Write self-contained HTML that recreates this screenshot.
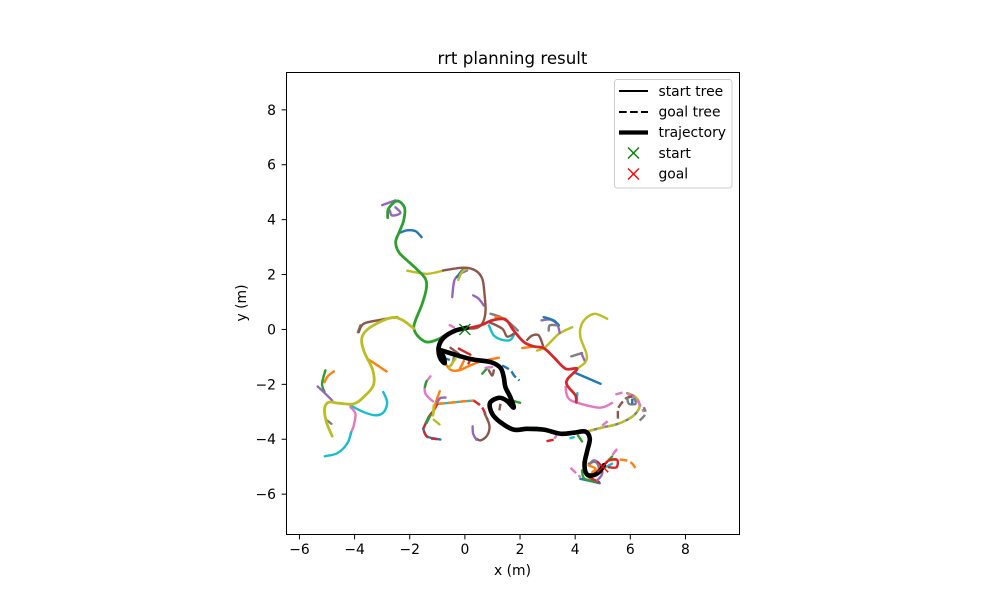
<!DOCTYPE html>
<html>
<head>
<meta charset="utf-8">
<title>rrt planning result</title>
<style>
html,body{margin:0;padding:0;background:#fff}
svg{display:block}
text{font-family:"DejaVu Sans","Liberation Sans",sans-serif;fill:#000}
</style>
</head>
<body>
<svg id="chart" xmlns="http://www.w3.org/2000/svg" width="1000" height="600" viewBox="0 0 1000 600">
<rect x="0" y="0" width="1000" height="600" fill="#fff"/>
<g id="marks"></g>
<rect x="286.5" y="72.5" width="453" height="462" fill="none" stroke="#000" stroke-width="1"/>
<g id="ticks"></g>
<text x="512.5" y="64" font-size="16.67" text-anchor="middle">rrt planning result</text>
<text x="512.5" y="575" font-size="13.89" text-anchor="middle">x (m)</text>
<text transform="translate(246,303) rotate(-90)" font-size="13.89" text-anchor="middle">y (m)</text>
<g>
<rect x="614.5" y="79.5" width="117.5" height="108.5" rx="2.8" fill="#fff" fill-opacity="0.8" stroke="#ccc" stroke-width="1"/>
<line x1="619" y1="91" x2="648" y2="91" stroke="#000" stroke-width="2.08"/>
<text x="658.5" y="96" font-size="13.89">start tree</text>
<line x1="619" y1="112" x2="648" y2="112" stroke="#000" stroke-width="2.08" stroke-dasharray="7.7 3.3"/>
<text x="658.5" y="116.500" font-size="13.89">goal tree</text>
<line x1="619" y1="132.500" x2="648" y2="132.500" stroke="#000" stroke-width="4.17"/>
<text x="658.5" y="137" font-size="13.89">trajectory</text>
<path d="M628 147.500l11 11M639 147.500l-11 11" stroke="#008000" stroke-width="1.4" fill="none"/>
<text x="658.5" y="158" font-size="13.89">start</text>
<path d="M628 168.500l11 11M639 168.500l-11 11" stroke="#ff0000" stroke-width="1.4" fill="none"/>
<text x="658.5" y="178.500" font-size="13.89">goal</text>
</g>
</svg>
<script>
const xTickLabels = [-6,-4,-2,0,2,4,6,8];
const yTickLabels = [-6,-4,-2,0,2,4,6,8];
const startPoint = [0,0];
const goalPoint = [5,-5];

const greenMain = [[-2.80,4.07],[-2.77,4.40],[-2.46,4.68],[-2.19,4.44],[-2.22,3.97],[-2.38,3.55],[-2.51,3.19],[-2.40,2.82],[-2.09,2.51],[-1.73,2.18],[-1.43,1.84],[-1.40,1.48],[-1.55,0.93],[-1.79,0.33],[-1.85,0.03],[-1.67,-0.28],[-1.37,-0.46],[-1.00,-0.37],[-0.64,-0.16]];
const brownTop = [[-0.79,2.15],[-0.04,2.25],[0.38,2.15],[0.63,1.85],[0.71,1.30],[0.75,0.69],[0.66,0.27],[0.45,0.06],[0.14,0.03]];
const oliveTop = [[-2.09,2.14],[-1.73,2.07],[-1.31,2.03],[-0.79,2.14]];
const blueTop = [[-2.37,3.52],[-2.09,3.61],[-1.79,3.58],[-1.57,3.36]];
const purpleTipA = [[-3.0,4.53],[-2.52,4.70]];
const purpleTipB = [[-2.72,4.33],[-2.64,4.15],[-2.34,4.24],[-2.52,4.45]];
const purpleInner = [[-0.46,1.18],[-0.38,1.79],[-0.16,2.03],[0.08,2.15]];
const blueInner = [[-0.28,1.91],[-0.10,2.15],[0.08,2.21]];
const oliveInner = [[-0.24,1.80],[-0.10,2.10],[0.10,2.22]];
const purpleRightInner = [[0.30,1.24],[0.50,1.12],[0.69,0.87]];
const pinkStart = [[-0.55,0.16],[-0.40,0.08]];

const brownLeftTop = [[-3.85,-0.10],[-3.67,0.21],[-3.06,0.35],[-2.46,0.45]];
const grayLeftTop = [[-3.88,-0.10],[-3.79,0.15]];
const oliveLeft = [[-1.85,0.03],[-2.28,0.35],[-2.70,0.42],[-3.43,0.08],[-3.73,-0.28],[-3.67,-0.77],[-3.34,-1.49],[-3.32,-2.04],[-3.67,-2.46],[-4.03,-2.71],[-4.58,-2.69],[-4.94,-2.65],[-5.09,-2.89],[-5.02,-3.38],[-4.81,-3.89]];
const orangeLeft = [[-3.49,-1.10],[-2.84,-1.53]];
const cyanLeftHook = [[-4.15,-2.77],[-3.67,-3.01],[-3.24,-3.13],[-2.94,-3.01],[-2.82,-2.65],[-2.96,-2.28]];
const pinkLeft = [[-4.15,-2.83],[-3.97,-3.07],[-4.03,-3.50],[-4.15,-3.80]];
const cyanLeftBottom = [[-4.12,-3.74],[-4.27,-4.16],[-4.63,-4.51],[-5.08,-4.62]];
const purpleLeft = [[-5.34,-2.08],[-5.06,-2.34],[-4.81,-2.59]];
const greenLeft = [[-5.06,-1.49],[-5.18,-1.98],[-5.09,-2.28]];
const orangeLeftTip = [[-4.75,-1.53],[-4.97,-1.70],[-5.09,-1.92]];
const grayLeftTip = [[-4.99,-3.32],[-4.84,-3.44]];

const blueRight = [[3.95,-1.56],[4.92,-1.98]];
const pinkRight = [[3.65,-2.10],[3.73,-2.47],[4.01,-2.65],[4.89,-2.85],[5.34,-2.68]];
const cyanRightTip = [[4.08,-2.32],[4.05,-2.56]];
const oliveRightLoop = [[4.07,-1.43],[4.37,-1.19],[4.41,-0.89],[4.19,-0.28],[4.22,0.15],[4.44,0.45],[4.74,0.57],[5.16,0.39]];
const grayRightStub = [[3.86,-0.98],[4.25,-0.86]];
const purpleRightStub = [[4.22,-0.86],[4.34,-1.13]];
const redMain = [[0.08,0.04],[0.57,0.15],[0.99,0.33],[1.47,0.36],[1.77,-0.04],[2.14,-0.46],[2.50,-0.62],[2.86,-0.68],[3.22,-1.01],[3.65,-1.43],[4.07,-1.43],[3.73,-1.80],[3.71,-2.04],[4.01,-2.40],[4.04,-2.65]];
const oliveBranch = [[2.62,-0.77],[2.92,-0.64],[3.41,-0.16],[3.89,0.08]];
const brownArc = [[2.26,-0.38],[2.44,-0.22],[2.68,-0.22],[2.83,-0.58]];
const orangeArcBase = [[2.08,-0.68],[2.49,-0.62]];
const purpleUpperRight = [[2.78,0.33],[3.10,0.36],[3.35,0.18],[3.44,-0.13]];
const blueUpperRight = [[2.86,0.45],[3.22,0.33],[3.41,0.15]];
const grayUpperRight = [[3.35,0.15],[3.08,0.15],[3.04,-0.04]];
const cyanNear = [[0.87,0.15],[1.05,-0.22],[1.35,-0.38],[1.65,-0.38],[1.80,-0.16]];
const grayNear = [[0.93,0.57],[1.29,0.45],[1.65,0.21],[1.92,-0.04]];
const brownNear = [[0.87,0.27],[1.35,0.03],[1.53,-0.26],[1.77,-0.16]];
const orangeNear = [[1.11,0.45],[1.47,0.39]];

const orangeCluster = [[-0.70,-1.25],[-0.52,-1.47],[-0.22,-1.49],[0.20,-1.31],[0.63,-1.15],[1.23,-1.03]];
const orangeClusterStub = [[-0.18,-1.43],[-0.04,-1.15]];
const redClusterA = [[-0.22,-0.70],[0.20,-0.92]];
const redClusterB = [[0.18,-1.13],[0.13,-1.24]];
const brownCluster = [[-0.52,-0.67],[-0.22,-0.89]];
const grayCluster = [[-0.40,-1.01],[-0.46,-1.25],[-0.58,-1.37]];
const oliveCluster = [[-0.34,-1.07],[-0.52,-1.31],[-0.59,-1.42]];
const blueCluster = [[-0.67,-1.07],[-0.58,-1.10]];
const greenCluster = [[0.63,-1.61],[0.81,-1.41]];
const pinkCluster = [[0.75,-1.40],[0.99,-1.37]];
const brownClusterV = [[0.87,-1.49],[0.99,-1.68],[1.05,-1.49]];
const blueDashed = [[1.35,-1.31],[1.65,-1.49],[1.80,-1.70],[1.98,-1.86]];
const pinkEnd = [[1.59,-2.73],[1.72,-2.83]];
const greenEnd = [[1.77,-2.61],[2.04,-2.68]];
const brownEnd = [[1.29,-2.71],[1.25,-2.95]];

const cyanBridge = [[-1.00,-2.71],[-0.64,-2.68],[-0.04,-2.62],[0.32,-2.59]];
const orangeBridge = [[-1.00,-2.71],[-0.64,-2.68],[-0.04,-2.62],[0.32,-2.59]];
const redBridgeRight = [[0.32,-2.59],[0.63,-2.85],[0.83,-3.32]];
const redBridgeLeft = [[-1.51,-3.62],[-1.31,-3.19],[-1.13,-2.95],[-1.00,-2.71]];
const blueBottomArc = [[-1.51,-3.62],[-1.37,-3.90],[-0.89,-4.01]];
const redBottomArc = [[-1.49,-3.70],[-1.35,-3.93],[-1.00,-4.00]];
const brownBottom = [[0.72,-3.07],[0.89,-3.50],[0.81,-3.86],[0.57,-4.04],[0.42,-3.98]];
const purpleBottom = [[0.42,-4.02],[0.30,-3.80],[0.28,-3.53]];
const pinkMidLeft = [[-1.25,-1.71],[-1.43,-1.98],[-1.43,-2.34],[-1.16,-2.62]];
const greenMidLeft = [[-1.39,-1.88],[-1.45,-2.10]];
const orangeMidLeft = [[-0.91,-2.25],[-1.07,-2.71],[-1.16,-3.13]];
const purpleMidLeft = [[-1.00,-2.65],[-0.89,-2.50],[-0.70,-2.48]];
const oliveMidLeft = [[-1.16,-3.13],[-1.13,-2.77]];
const oliveMidLow = [[-1.13,-3.29],[-0.92,-3.46]];
const greenMidLow = [[-1.39,-3.41],[-1.25,-3.13]];

const grayRightTrunk = [[4.41,-3.72],[5.04,-3.56],[5.46,-3.47],[5.89,-3.29],[6.19,-3.07],[6.34,-2.77],[6.19,-2.47],[5.89,-2.32]];
const oliveRightTrunk = [[4.41,-3.72],[5.04,-3.56],[5.46,-3.47],[5.89,-3.29],[6.19,-3.07],[6.34,-2.77],[6.19,-2.47],[5.89,-2.32]];
const pinkGoalA = [[5.46,-2.37],[5.71,-2.30]];
const pinkGoalB = [[5.89,-2.34],[6.25,-2.59],[6.49,-3.01]];
const brownGoal = [[5.55,-3.25],[5.55,-3.01],[5.58,-2.83],[5.83,-2.52],[6.07,-2.44]];
const grayGoalArc = [[6.34,-3.32],[6.55,-3.07],[6.49,-2.83]];
const grayGoalBox = [[5.89,-2.52],[5.95,-2.71],[6.19,-2.71],[6.15,-2.52]];
const blueGoalBox = [[6.07,-2.52],[6.07,-2.71]];
const orangeGoalDash = [[5.22,-4.77],[5.64,-4.74],[6.01,-4.84],[6.25,-5.14]];
const pinkGoalC = [[3.83,-5.04],[4.19,-5.38]];
const pinkGoalD = [[5.52,-4.35],[5.28,-4.67]];
const pinkGoalE = [[4.98,-3.50],[5.18,-3.34]];
const redGoalLoop = [[5.04,-4.95],[5.22,-4.77],[5.52,-4.75],[5.50,-5.02],[5.22,-5.02]];
const blueFloor = [[4.19,-5.44],[4.89,-5.60]];
const greenFloor = [[4.25,-5.14],[4.34,-5.44],[4.86,-5.56]];
const redFloor = [[4.49,-5.38],[4.86,-5.56]];
const purpleLoop = [[4.49,-4.95],[4.68,-4.77],[4.92,-4.95],[4.98,-5.26],[4.80,-5.50]];
const grayLoop = [[4.49,-4.89],[4.74,-4.83],[4.86,-5.07],[4.68,-5.26]];
const orangeLoop = [[4.49,-4.95],[4.74,-5.07],[4.62,-5.20]];
const cyanLoop = [[5.10,-5.02],[5.34,-4.89]];
const greenLoopTip = [[5.22,-4.75],[5.34,-4.63]];
const redMidStub = [[2.96,-4.07],[3.22,-4.02]];
const pinkMidStub = [[3.25,-3.98],[3.32,-3.86]];
const greenMidStub = [[4.10,-3.86],[4.25,-4.08]];
const cyanMidStub = [[3.83,-3.96],[3.95,-3.92]];
const cyanMidTop = [[2.38,-3.58],[2.62,-3.58]];

const trajectory = [[0.08,0.06],[-0.34,-0.04],[-0.77,-0.30],[-0.95,-0.64],[-0.91,-1.01],[-0.74,-1.23],[-0.77,-1.01],[-0.89,-0.77],[-0.64,-0.83],[-0.16,-0.98],[0.32,-1.10],[0.93,-1.19],[1.29,-1.40],[1.41,-1.74],[1.47,-2.10],[1.65,-2.47],[1.77,-2.85],[1.51,-2.59],[1.23,-2.49],[0.91,-2.68],[0.99,-3.07],[1.29,-3.38],[1.77,-3.65],[2.26,-3.62],[2.86,-3.65],[3.47,-3.80],[3.95,-3.76],[4.37,-3.72],[4.53,-3.98],[4.44,-4.41],[4.34,-4.89],[4.41,-5.26],[4.62,-5.32],[4.86,-5.20],[5.04,-4.95]];

const NS = 'http://www.w3.org/2000/svg';
const PLOT = {left:286.5, right:739.5, top:72.5, bottom:534.5, xMin:-6.47, xMax:9.96, yMin:-7.47, yMax:9.36};
function sx(v){ return PLOT.left + (v-PLOT.xMin)/(PLOT.xMax-PLOT.xMin)*(PLOT.right-PLOT.left); }
function sy(v){ return PLOT.bottom - (v-PLOT.yMin)/(PLOT.yMax-PLOT.yMin)*(PLOT.bottom-PLOT.top); }
const BLUE='#1f77b4',ORANGE='#ff7f0e',GREEN='#2ca02c',RED='#d62728',PURPLE='#9467bd',BROWN='#8c564b',PINK='#e377c2',GRAY='#7f7f7f',OLIVE='#bcbd22',CYAN='#17becf';
const marks = document.getElementById('marks');
const ticks = document.getElementById('ticks');
function smoothPath(pts){
  const p = pts.map(q => [sx(q[0]), sy(q[1])]);
  let d = 'M'+p[0][0].toFixed(2)+' '+p[0][1].toFixed(2);
  for(let i=0;i<p.length-1;i++){
    const a = p[Math.max(0,i-1)], b = p[i], c = p[i+1], e = p[Math.min(p.length-1,i+2)];
    const c1x = b[0]+(c[0]-a[0])/6, c1y = b[1]+(c[1]-a[1])/6;
    const c2x = c[0]-(e[0]-b[0])/6, c2y = c[1]-(e[1]-b[1])/6;
    d += 'C'+c1x.toFixed(2)+' '+c1y.toFixed(2)+' '+c2x.toFixed(2)+' '+c2y.toFixed(2)+' '+c[0].toFixed(2)+' '+c[1].toFixed(2);
  }
  return d;
}
function drawLine(name, pts, color, dashed, width){
  const el = document.createElementNS(NS,'path');
  
  
  el.setAttribute('d', smoothPath(pts));
  el.setAttribute('fill','none');
  el.setAttribute('stroke',color);
  el.setAttribute('stroke-width',width||2.4);
  el.setAttribute('stroke-linejoin','round');
  el.setAttribute('stroke-linecap',dashed?'butt':'round');
  if(dashed) el.setAttribute('stroke-dasharray','7.7 3.3');
  marks.appendChild(el);
}
function drawMarker(name, pt, color){
  const el = document.createElementNS(NS,'path');
  
  
  const x=sx(pt[0]), y=sy(pt[1]), r=5.5;
  el.setAttribute('d','M'+(x-r)+' '+(y-r)+'L'+(x+r)+' '+(y+r)+'M'+(x+r)+' '+(y-r)+'L'+(x-r)+' '+(y+r));
  el.setAttribute('stroke',color);
  el.setAttribute('stroke-width','1.4');
  el.setAttribute('fill','none');
  marks.appendChild(el);
}
function drawTicks(){
  xTickLabels.forEach(v => {
    const t = document.createElementNS(NS,'line');
    
    
    t.setAttribute('x1',sx(v)); t.setAttribute('x2',sx(v));
    t.setAttribute('y1',534.5); t.setAttribute('y2',539.4);
    t.setAttribute('stroke','#000');
    ticks.appendChild(t);
    const l = document.createElementNS(NS,'text');
    
    
    l.setAttribute('x',sx(v)); l.setAttribute('y',554);
    l.setAttribute('font-size','13.89');
    l.setAttribute('text-anchor','middle');
    l.textContent = String(v).replace('-','\u2212');
    ticks.appendChild(l);
  });
  yTickLabels.forEach(v => {
    const t = document.createElementNS(NS,'line');
    
    
    t.setAttribute('x1',281.6); t.setAttribute('x2',286.5);
    t.setAttribute('y1',sy(v)); t.setAttribute('y2',sy(v));
    t.setAttribute('stroke','#000');
    ticks.appendChild(t);
    const l = document.createElementNS(NS,'text');
    
    
    l.setAttribute('x',276); l.setAttribute('y',sy(v)+5);
    l.setAttribute('font-size','13.89');
    l.setAttribute('text-anchor','end');
    l.textContent = String(v).replace('-','\u2212');
    ticks.appendChild(l);
  });
}
drawLine('tree-branch-purple-tip-a',purpleTipA,PURPLE);
drawLine('tree-branch-purple-tip-b',purpleTipB,PURPLE);
drawLine('tree-branch-blue-top',blueTop,BLUE);
drawLine('tree-branch-olive-top',oliveTop,OLIVE);
drawLine('tree-branch-purple-inner',purpleInner,PURPLE);
drawLine('tree-branch-blue-inner',blueInner,BLUE);
drawLine('tree-branch-olive-inner',oliveInner,OLIVE);
drawLine('tree-branch-purple-right-inner',purpleRightInner,PURPLE);
drawLine('tree-branch-pink-start',pinkStart,PINK);
drawLine('tree-branch-brown-top',brownTop,BROWN);
drawLine('tree-branch-green-main',greenMain,GREEN,false,2.8);
drawLine('tree-branch-gray-left-top',grayLeftTop,GRAY);
drawLine('tree-branch-brown-left-top',brownLeftTop,BROWN);
drawLine('tree-branch-orange-left',orangeLeft,ORANGE);
drawLine('tree-branch-cyan-left-hook',cyanLeftHook,CYAN);
drawLine('tree-branch-pink-left',pinkLeft,PINK);
drawLine('tree-branch-cyan-left-bottom',cyanLeftBottom,CYAN);
drawLine('tree-branch-green-left',greenLeft,GREEN);
drawLine('tree-branch-orange-left-tip',orangeLeftTip,ORANGE);
drawLine('tree-branch-purple-left',purpleLeft,PURPLE);
drawLine('tree-branch-gray-left-tip',grayLeftTip,GRAY);
drawLine('tree-branch-olive-left',oliveLeft,OLIVE,false,2.8);
drawLine('tree-branch-blue-right',blueRight,BLUE);
drawLine('tree-branch-pink-right',pinkRight,PINK);
drawLine('tree-branch-cyan-right-tip',cyanRightTip,CYAN);
drawLine('tree-branch-gray-right-stub',grayRightStub,GRAY);
drawLine('tree-branch-purple-right-stub',purpleRightStub,PURPLE);
drawLine('tree-branch-olive-right-loop',oliveRightLoop,OLIVE);
drawLine('tree-branch-olive-branch',oliveBranch,OLIVE);
drawLine('tree-branch-brown-arc',brownArc,BROWN);
drawLine('tree-branch-orange-arc-base',orangeArcBase,ORANGE);
drawLine('tree-branch-purple-upper-right',purpleUpperRight,PURPLE);
drawLine('tree-branch-blue-upper-right',blueUpperRight,BLUE);
drawLine('tree-branch-gray-upper-right',grayUpperRight,GRAY);
drawLine('tree-branch-cyan-near',cyanNear,CYAN);
drawLine('tree-branch-gray-near',grayNear,GRAY);
drawLine('tree-branch-brown-near',brownNear,BROWN);
drawLine('tree-branch-orange-near',orangeNear,ORANGE);
drawLine('tree-branch-red-main',redMain,RED,false,2.8);
drawLine('tree-branch-orange-cluster',orangeCluster,ORANGE);
drawLine('tree-branch-orange-cluster-stub',orangeClusterStub,ORANGE);
drawLine('tree-branch-red-cluster-a',redClusterA,RED);
drawLine('tree-branch-red-cluster-b',redClusterB,RED);
drawLine('tree-branch-brown-cluster',brownCluster,BROWN);
drawLine('tree-branch-gray-cluster',grayCluster,GRAY);
drawLine('tree-branch-olive-cluster',oliveCluster,OLIVE);
drawLine('tree-branch-blue-cluster',blueCluster,BLUE);
drawLine('tree-branch-green-cluster',greenCluster,GREEN);
drawLine('tree-branch-pink-cluster',pinkCluster,PINK);
drawLine('tree-branch-brown-cluster-v',brownClusterV,BROWN);
drawLine('goal-branch-blue-dashed',blueDashed,BLUE,true);
drawLine('goal-branch-pink-end',pinkEnd,PINK,true);
drawLine('goal-branch-green-end',greenEnd,GREEN,true);
drawLine('goal-branch-brown-end',brownEnd,BROWN,true);
drawLine('goal-branch-cyan-bridge',cyanBridge,CYAN);
drawLine('goal-branch-orange-bridge',orangeBridge,ORANGE,true);
drawLine('goal-branch-blue-bottom-arc',blueBottomArc,BLUE);
drawLine('goal-branch-red-bottom-arc',redBottomArc,RED,true);
drawLine('goal-branch-red-bridge-left',redBridgeLeft,BLUE);
drawLine('goal-branch-red-bridge-left-dash',redBridgeLeft,RED,true);
drawLine('goal-branch-red-bridge-right',redBridgeRight,RED,true);
drawLine('goal-branch-brown-bottom',brownBottom,BROWN);
drawLine('goal-branch-purple-bottom',purpleBottom,PURPLE);
drawLine('goal-branch-pink-mid-left',pinkMidLeft,PINK);
drawLine('goal-branch-green-mid-left',greenMidLeft,GREEN);
drawLine('goal-branch-orange-mid-left',orangeMidLeft,ORANGE);
drawLine('goal-branch-purple-mid-left',purpleMidLeft,PURPLE);
drawLine('goal-branch-olive-mid-left',oliveMidLeft,OLIVE);
drawLine('goal-branch-olive-mid-low',oliveMidLow,OLIVE);
drawLine('goal-branch-green-mid-low',greenMidLow,GREEN);
drawLine('goal-branch-gray-right-trunk',grayRightTrunk,GRAY);
drawLine('goal-branch-olive-right-trunk',oliveRightTrunk,OLIVE,true);
drawLine('goal-branch-pink-goal-a',pinkGoalA,PINK,true);
drawLine('goal-branch-pink-goal-b',pinkGoalB,PINK,true);
drawLine('goal-branch-brown-goal',brownGoal,BROWN,true);
drawLine('goal-branch-gray-goal-arc',grayGoalArc,GRAY,true);
drawLine('goal-branch-gray-goal-box',grayGoalBox,GRAY);
drawLine('goal-branch-blue-goal-box',blueGoalBox,BLUE,true);
drawLine('goal-branch-orange-goal-dash',orangeGoalDash,ORANGE,true);
drawLine('goal-branch-pink-goal-c',pinkGoalC,PINK,true);
drawLine('goal-branch-pink-goal-d',pinkGoalD,PINK,true);
drawLine('goal-branch-pink-goal-e',pinkGoalE,PINK,true);
drawLine('goal-branch-blue-floor',blueFloor,BLUE);
drawLine('goal-branch-green-floor',greenFloor,GREEN);
drawLine('goal-branch-red-floor',redFloor,RED);
drawLine('goal-branch-purple-loop',purpleLoop,PURPLE);
drawLine('goal-branch-gray-loop',grayLoop,GRAY);
drawLine('goal-branch-orange-loop',orangeLoop,ORANGE);
drawLine('goal-branch-cyan-loop',cyanLoop,CYAN);
drawLine('goal-branch-green-loop-tip',greenLoopTip,GREEN);
drawLine('goal-branch-red-loop',redGoalLoop,RED);
drawLine('goal-branch-red-mid-stub',redMidStub,RED,true);
drawLine('goal-branch-pink-mid-stub',pinkMidStub,PINK,true);
drawLine('goal-branch-green-mid-stub',greenMidStub,GREEN);
drawLine('goal-branch-cyan-mid-stub',cyanMidStub,CYAN);
drawLine('goal-branch-cyan-mid-top',cyanMidTop,CYAN);
drawLine('trajectory-line',trajectory,'#000',false,4.6);
drawMarker('start-marker',startPoint,'#008000');
drawMarker('goal-marker',goalPoint,'#ff0000');
drawTicks();
</script>
</body>
</html>
